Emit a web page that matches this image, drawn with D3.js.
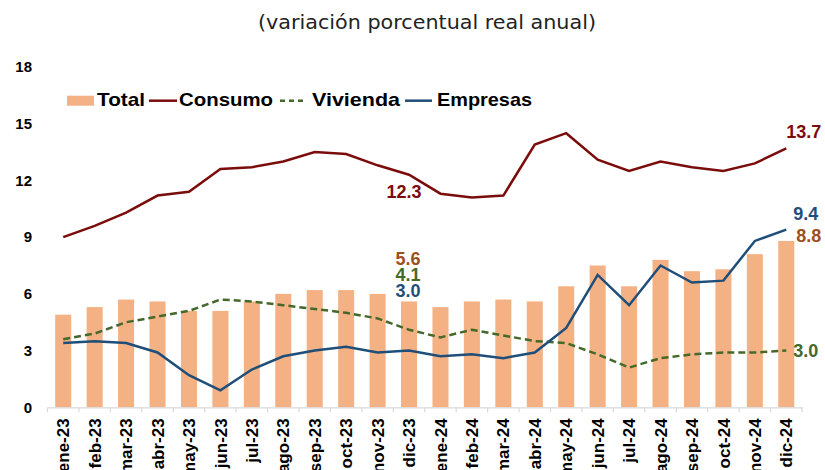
<!DOCTYPE html>
<html><head><meta charset="utf-8">
<script src="https://cdn.jsdelivr.net/npm/d3@7"></script>
<style>body{margin:0;background:#fff}svg{display:block}</style>
</head><body>
<svg id="chart" width="825" height="470"></svg>
<script>
const categories = ["ene-23","feb-23","mar-23","abr-23","may-23","jun-23","jul-23","ago-23","sep-23","oct-23","nov-23","dic-23",
  "ene-24","feb-24","mar-24","abr-24","may-24","jun-24","jul-24","ago-24","sep-24","oct-24","nov-24","dic-24"];
const total    = [4.9,5.3,5.7,5.6,5.1,5.1,5.6,6.0,6.2,6.2,6.0,5.6, 5.3,5.6,5.7,5.6,6.4,7.5,6.4,7.8,7.2,7.3,8.1,8.8];
const consumo  = [9.0,9.6,10.3,11.2,11.4,12.6,12.7,13.0,13.5,13.4,12.8,12.3, 11.3,11.1,11.2,13.9,14.5,13.1,12.5,13.0,12.7,12.5,12.9,13.7];
const vivienda = [3.6,3.9,4.5,4.8,5.1,5.7,5.6,5.4,5.2,5.0,4.7,4.1, 3.7,4.1,3.8,3.5,3.4,2.8,2.1,2.6,2.8,2.9,2.9,3.0];
const empresas = [3.4,3.5,3.4,2.9,1.7,0.9,2.0,2.7,3.0,3.2,2.9,3.0, 2.7,2.8,2.6,2.9,4.2,7.0,5.4,7.5,6.6,6.7,8.8,9.4];
const yTicks = [0,3,6,9,12,15,18];
const seriesNames = ["Total","Consumo","Vivienda","Empresas"];

const C = {total:"#F4B183", consumo:"#7B0C0C", vivienda:"#44692A", empresas:"#1F4E79", totalLbl:"#9E4F1E"};
const svg = d3.select("#chart");
const x = d3.scaleBand().domain(categories).range([47.5, 802]).paddingInner(0).paddingOuter(0);
const y = d3.scaleLinear().domain([0,18]).range([407.3, 67]);
const cx = d => x(d) + x.bandwidth()/2;
const bw = x.bandwidth()*0.51;

// title
svg.append("text").attr("x",427).attr("y",29).attr("text-anchor","middle")
  .attr("font-family","DejaVu Sans").attr("font-size",19).attr("fill","#222")
  .attr("textLength",338).attr("lengthAdjust","spacingAndGlyphs")
  .text("(variación porcentual real anual)");

// y axis labels
const yAxis = d3.axisLeft(y).tickValues(yTicks).tickSize(0).tickPadding(0);
const gy = svg.append("g").attr("transform","translate(32,0)").call(yAxis);
gy.select(".domain").remove();
gy.selectAll("text").attr("font-family","Liberation Sans").attr("font-weight","bold").attr("font-size",15).attr("fill","#000");

// bars
svg.append("g").selectAll("rect").data(total).join("rect")
  .attr("x",(d,i)=>cx(categories[i])-bw/2).attr("width",bw)
  .attr("y",d=>y(d)).attr("height",d=>y(0)-y(d)).attr("fill",C.total);

// x axis
const gx = svg.append("g").attr("transform",`translate(0,${y(0)})`)
  .call(d3.axisBottom(x).tickSize(0).tickPadding(0));
gx.select(".domain").attr("stroke","#D9D9D9").attr("stroke-width",1.2);
gx.selectAll(".tick line").remove();
const bounds = categories.map(c=>x(c)).concat([x(categories[categories.length-1])+x.bandwidth()]);
gx.selectAll("line.bnd").data(bounds).join("line").attr("class","bnd")
  .attr("x1",d=>d).attr("x2",d=>d).attr("y1",0).attr("y2",5).attr("stroke","#D9D9D9").attr("stroke-width",1.2);
gx.selectAll(".tick text")
  .attr("transform","translate(0,11) rotate(-90)")
  .attr("text-anchor","end").attr("dy","0.36em").attr("x",0).attr("y",0)
  .attr("font-family","Liberation Sans").attr("font-weight","bold").attr("font-size",17).attr("fill","#000");

// lines
const line = d3.line().x((d,i)=>cx(categories[i])).y(d=>y(d));
svg.append("path").datum(vivienda).attr("d",line).attr("fill","none").attr("stroke",C.vivienda).attr("stroke-width",2.5).attr("stroke-dasharray","7,4");
svg.append("path").datum(empresas).attr("d",line).attr("fill","none").attr("stroke",C.empresas).attr("stroke-width",2.5);
svg.append("path").datum(consumo).attr("d",line).attr("fill","none").attr("stroke",C.consumo).attr("stroke-width",2.5);

// data labels
const lblFont = s => s.attr("font-family","Liberation Sans").attr("font-weight","bold").attr("font-size",18);
const iD = 11, iL = 23;
const xD = cx(categories[iD]) - 1, xL = cx(categories[iL]);
lblFont(svg.append("text").attr("x",xD-4).attr("y",y(consumo[iD])+23).attr("text-anchor","middle").attr("fill",C.consumo).text(consumo[iD].toFixed(1)));
lblFont(svg.append("text").attr("x",xD).attr("y",y(total[iD])-36).attr("text-anchor","middle").attr("fill",C.totalLbl).text(total[iD].toFixed(1)));
lblFont(svg.append("text").attr("x",xD).attr("y",y(total[iD])-20).attr("text-anchor","middle").attr("fill",C.vivienda).text(vivienda[iD].toFixed(1)));
lblFont(svg.append("text").attr("x",xD).attr("y",y(total[iD])-4).attr("text-anchor","middle").attr("fill",C.empresas).text(empresas[iD].toFixed(1)));
lblFont(svg.append("text").attr("x",xL).attr("y",y(consumo[iL])-10).attr("fill",C.consumo).text(consumo[iL].toFixed(1)));
lblFont(svg.append("text").attr("x",xL+7).attr("y",y(empresas[iL])-10).attr("fill",C.empresas).text(empresas[iL].toFixed(1)));
lblFont(svg.append("text").attr("x",xL+10).attr("y",y(total[iL])+1).attr("fill",C.totalLbl).text(total[iL].toFixed(1)));
lblFont(svg.append("text").attr("x",xL+7).attr("y",y(vivienda[iL])+6).attr("fill",C.vivienda).text(vivienda[iL].toFixed(1)));

// legend
const lg = svg.append("g");
const ly = 100.7;
const legendItems = [
  {name:seriesNames[0], type:"rect", sx:67, ex:94, tx:97, tl:48, color:C.total},
  {name:seriesNames[1], type:"line", sx:149, ex:177, tx:179, tl:94, color:C.consumo},
  {name:seriesNames[2], type:"dash", sx:280, ex:307, tx:312, tl:88, color:C.vivienda},
  {name:seriesNames[3], type:"line", sx:405, ex:432, tx:437, tl:95, color:C.empresas}
];
legendItems.forEach(it=>{
  if(it.type==="rect") lg.append("rect").attr("x",it.sx).attr("y",ly-5).attr("width",it.ex-it.sx).attr("height",10).attr("fill",it.color);
  else lg.append("line").attr("x1",it.sx).attr("x2",it.ex).attr("y1",ly).attr("y2",ly).attr("stroke",it.color).attr("stroke-width",2.5)
    .attr("stroke-dasharray",it.type==="dash"?"5,4":null);
  lg.append("text").attr("x",it.tx).attr("y",106).attr("font-family","Liberation Sans").attr("font-weight","bold").attr("font-size",19)
    .attr("fill","#000").attr("textLength",it.tl).attr("lengthAdjust","spacingAndGlyphs").text(it.name);
});
</script>
</body></html>
